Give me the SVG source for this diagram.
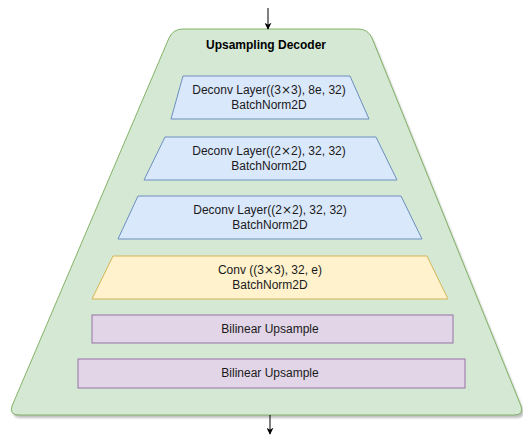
<svg xmlns="http://www.w3.org/2000/svg" width="523" height="435" viewBox="0 0 523 435">
  <defs>
    <marker id="arrow" viewBox="0 0 10 10" refX="9" refY="5" markerWidth="7" markerHeight="7" orient="auto" markerUnits="userSpaceOnUse">
      <path d="M0,0 L10,5 L0,10 L3,5 Z" fill="#000"/>
    </marker>
    <filter id="shadow" x="-5%" y="-5%" width="110%" height="110%">
      <feGaussianBlur stdDeviation="1"/>
    </filter>
  </defs>
  <style>
    text { font-family: "Liberation Sans", Arial, Helvetica, sans-serif; font-size: 12px; fill: #1a1a1a; text-anchor: middle; }
    .title { font-weight: bold; fill: #000; }
    .times { font-family: "DejaVu Sans", sans-serif; }
    .container { fill: #d5e8d4; stroke: #82b366; stroke-width: 1; }
    .deconv { fill: #dae8fc; stroke: #6c8ebf; stroke-width: 1; }
    .conv { fill: #fff2cc; stroke: #d6b656; stroke-width: 1; }
    .upsample { fill: #e1d5e7; stroke: #9673a6; stroke-width: 1; }
    .edge { stroke: #000; stroke-width: 1; fill: none; }
  </style>

  <!-- Decoder container: rounded trapezoid with soft shadow -->
  <g id="decoder">
    <path d="M183,29 L358,29 Q368,29 372,38 L521,406 Q524,415 514,415 L19,415 Q9,415 12,406 L169,38 Q173,29 183,29 Z" fill="#000" opacity="0.25" transform="translate(2,3)" filter="url(#shadow)"/>
    <path class="container" d="M183,29 L358,29 Q368,29 372,38 L521,406 Q524,415 514,415 L19,415 Q9,415 12,406 L169,38 Q173,29 183,29 Z"/>
    <text class="title" x="266" y="49">Upsampling Decoder</text>
  </g>

  <g id="deconv1">
    <polygon class="deconv" points="183,76 350,76 369,119 171,119"/>
    <text x="269" y="94">Deconv Layer((3<tspan class="times">×</tspan>3), 8e, 32)</text>
    <text x="269" y="109">BatchNorm2D</text>
  </g>

  <g id="deconv2">
    <polygon class="deconv" points="165,137 376,137 397,180 144,180"/>
    <text x="269" y="155">Deconv Layer((2<tspan class="times">×</tspan>2), 32, 32)</text>
    <text x="269" y="170">BatchNorm2D</text>
  </g>

  <g id="deconv3">
    <polygon class="deconv" points="138,196 401,196 422,239 118,239"/>
    <text x="270" y="214">Deconv Layer((2<tspan class="times">×</tspan>2), 32, 32)</text>
    <text x="270" y="229">BatchNorm2D</text>
  </g>

  <g id="conv">
    <polygon class="conv" points="113,256 427,256 448,299 92,299"/>
    <text x="270" y="274">Conv ((3<tspan class="times">×</tspan>3), 32, e)</text>
    <text x="270" y="289">BatchNorm2D</text>
  </g>

  <g id="upsample1">
    <rect class="upsample" x="92" y="315" width="361" height="28"/>
    <text x="270" y="333">Bilinear Upsample</text>
  </g>

  <g id="upsample2">
    <rect class="upsample" x="78" y="359" width="387" height="29"/>
    <text x="270" y="377">Bilinear Upsample</text>
  </g>

  <g id="connectors">
    <line class="edge" x1="268" y1="8" x2="268" y2="29" marker-end="url(#arrow)"/>
    <line class="edge" x1="270" y1="415" x2="270" y2="434" marker-end="url(#arrow)"/>
  </g>
</svg>
